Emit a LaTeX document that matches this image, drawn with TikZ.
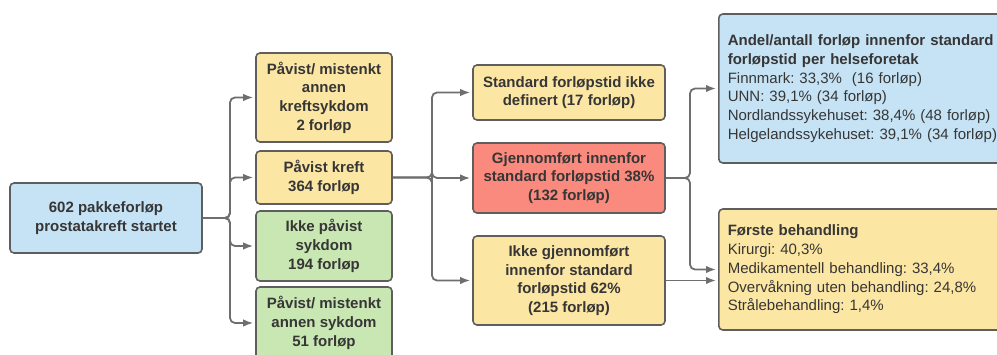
\documentclass[tikz,border=0pt]{standalone}
\usepackage{fontspec}
\setmainfont{Liberation Sans}
\usepackage{tikz}
\usetikzlibrary{positioning,arrows.meta}
\frenchspacing

\definecolor{boxline}{HTML}{5E5E5E}
\definecolor{boxtext}{HTML}{363636}
\definecolor{linegray}{HTML}{6E6E6E}
\definecolor{lucidyellow}{HTML}{FCE6A4}
\definecolor{lucidgreen}{HTML}{C9E7B2}
\definecolor{lucidblue}{HTML}{C6E3F5}
\definecolor{lucidred}{HTML}{F98A7D}

\tikzset{
	flowbox/.style = {draw = boxline, line width = 1.6pt, rounded corners = 4pt,
		text = boxtext, font = \fontsize{15}{18.7}\selectfont\bfseries,
		align = center, inner sep = 0pt},
	yellowbox/.style = {flowbox, fill = lucidyellow},
	greenbox/.style = {flowbox, fill = lucidgreen},
	bluebox/.style = {flowbox, fill = lucidblue},
	redbox/.style = {flowbox, fill = lucidred},
	infobox/.style = {flowbox, font = \fontsize{15}{18.7}\selectfont,
		align = left, inner xsep = 9pt, text width = 300pt, anchor = west},
	conn/.style = {draw = linegray, line width = 1.8pt, rounded corners = 5pt,
		-{Latex[length = 10pt, width = 7.5pt]}, shorten > = 2pt}
}

\begin{document}
\begin{tikzpicture}[x = 1pt, y = -1pt]

\useasboundingbox (0, 0) rectangle (997, 354);
\clip (0, 0) rectangle (997, 354);

% start
\node[bluebox, minimum width = 192pt, minimum height = 70pt] (start) at (106, 218)
	{602 pakkeforløp\\prostatakreft startet};

% first split
\node[yellowbox, minimum width = 136pt, minimum height = 89pt] (annenkreft) at (324, 97.5)
	{Påvist/ mistenkt\\annen\\kreftsykdom\\2 forløp};
\node[yellowbox, minimum width = 136pt, minimum height = 53pt] (kreft) at (324, 177.5)
	{Påvist kreft\\364 forløp};
\node[greenbox, minimum width = 136pt, minimum height = 70pt] (ikkesykdom) at (324, 246)
	{Ikke påvist\\sykdom\\194 forløp};
\node[greenbox, minimum width = 136pt, minimum height = 72pt] (annensykdom) at (324, 323)
	{Påvist/ mistenkt\\annen sykdom\\51 forløp};

% second split
\node[yellowbox, minimum width = 192pt, minimum height = 55pt] (ikkedef) at (569, 92.5)
	{Standard forløpstid ikke\\definert (17 forløp)};
\node[redbox, minimum width = 192pt, minimum height = 70pt] (innenfor) at (569, 178)
	{Gjennomført innenfor\\standard forløpstid 38\%\\(132 forløp)};
\node[yellowbox, minimum width = 192pt, minimum height = 89pt] (utenfor) at (569, 280.5)
	{Ikke gjennomført\\innenfor standard\\forløpstid 62\%\\(215 forløp)};

% results
\node[infobox, fill = lucidblue, minimum height = 149pt] (helseforetak) at (718, 88.5)
	{\textbf{Andel/antall forløp innenfor standard}\\
	 \textbf{forløpstid per helseforetak}\\
	 Finnmark: 33,3\%\ \ (16 forløp)\\
	 UNN: 39,1\% (34 forløp)\\
	 Nordlandssykehuset: 38,4\% (48 forløp)\\
	 Helgelandssykehuset: 39,1\% (34 forløp)};
\node[infobox, fill = lucidyellow, minimum height = 121pt] (behandling) at (718, 269.5)
	{\textbf{Første behandling}\\
	 Kirurgi: 40,3\%\\
	 Medikamentell behandling: 33,4\%\\
	 Overvåkning uten behandling: 24,8\%\\
	 Strålebehandling: 1,4\%};

\coordinate (split1) at (230, 218);
\coordinate (split2) at (432, 177.5);
\coordinate (split3) at (690, 178);

\foreach \target in {annenkreft, kreft, ikkesykdom, annensykdom}
	\draw[conn] (start.east) -- (split1) |- (\target.west);

\foreach \target in {ikkedef, innenfor, utenfor}
	\draw[conn] (kreft.east) -- (split2) |- (\target.west);

\draw[conn] (innenfor.east) -- (split3) |- (helseforetak.west);
\draw[conn] (innenfor.east) -- (split3) |- (behandling.west);
\draw[conn] (utenfor.east) -- (utenfor.east -| behandling.west);

\end{tikzpicture}
\end{document}
